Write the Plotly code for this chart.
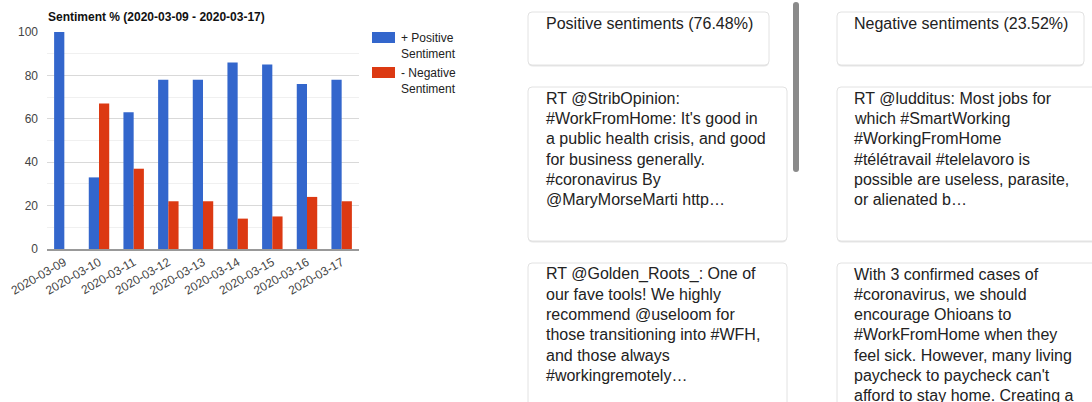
import plotly.graph_objects as go

W, H = 1092, 402

# ---------------- data ----------------
dates = ["2020-03-09", "2020-03-10", "2020-03-11", "2020-03-12", "2020-03-13",
         "2020-03-14", "2020-03-15", "2020-03-16", "2020-03-17"]
positive = [100, 33, 63, 78, 78, 86, 85, 76, 78]
negative = [0, 67, 37, 22, 22, 14, 15, 24, 22]
series_names = ["+ Positive<br>Sentiment", "- Negative<br>Sentiment"]
chart_title = "Sentiment % (2020-03-09 - 2020-03-17)"

pos_header = "Positive sentiments (76.48%)"
neg_header = "Negative sentiments (23.52%)"
pos_tweet_1 = ["RT @StribOpinion:", "#WorkFromHome: It's good in",
               "a public health crisis, and good", "for business generally.",
               "#coronavirus By", "@MaryMorseMarti http…"]
neg_tweet_1 = ["RT @ludditus: Most jobs for", "which #SmartWorking",
               "#WorkingFromHome", "#télétravail #telelavoro is",
               "possible are useless, parasite,", "or alienated b…"]
pos_tweet_2 = ["RT @Golden_Roots_: One of", "our fave tools! We highly",
               "recommend @useloom for", "those transitioning into #WFH,",
               "and those always", "#workingremotely…"]
neg_tweet_2 = ["With 3 confirmed cases of", "#coronavirus, we should",
               "encourage Ohioans to", "#WorkFromHome when they",
               "feel sick. However, many living", "paycheck to paycheck can't",
               "afford to stay home. Creating a"]

# ---------------- styles ----------------
BLUE = "#3366cc"
RED = "#dc3912"
FONT = "Liberation Sans, Arial, Helvetica, sans-serif"
TEXT = "#222222"


def fx(px):
    return px / W


def fy(py):
    return 1 - py / H


fig = go.Figure()
fig.add_trace(go.Bar(x=dates, y=positive, name=series_names[0],
                     marker=dict(color=BLUE, line=dict(width=0))))
fig.add_trace(go.Bar(x=dates, y=negative, name=series_names[1],
                     marker=dict(color=RED, line=dict(width=0))))

shapes = []
annotations = []


def rounded_rect(x0, y0, x1, y1, r=4):
    X0, X1 = fx(x0), fx(x1)
    Y0, Y1 = fy(y0), fy(y1)
    rx, ry = r / W, r / H
    return (f"M{X0+rx},{Y0} L{X1-rx},{Y0} Q{X1},{Y0} {X1},{Y0-ry} "
            f"L{X1},{Y1+ry} Q{X1},{Y1} {X1-rx},{Y1} "
            f"L{X0+rx},{Y1} Q{X0},{Y1} {X0},{Y1+ry} "
            f"L{X0},{Y0-ry} Q{X0},{Y0} {X0+rx},{Y0} Z")


def card(x0, y0, x1, y1):
    # soft shadow
    shapes.append(dict(type="path", xref="paper", yref="paper", layer="below",
                       path=rounded_rect(x0, y0 + 1.5, x1, y1 + 1.5, 5),
                       fillcolor="rgba(0,0,0,0.10)", line=dict(width=0)))
    shapes.append(dict(type="path", xref="paper", yref="paper", layer="below",
                       path=rounded_rect(x0, y0, x1, y1, 4),
                       fillcolor="white",
                       line=dict(color="#e2e2e2", width=1)))


def text_lines(lines, x, y_first, step=20.25):
    for i, t in enumerate(lines):
        annotations.append(dict(xref="paper", yref="paper", x=fx(x),
                                y=fy(y_first + i * step), text=t,
                                showarrow=False, xanchor="left",
                                yanchor="middle",
                                font=dict(family=FONT, size=16, color=TEXT)))


# cards (positive column)
card(528, 12, 769, 65)
card(528, 87, 787, 241)
card(528, 263, 787, 430)
# cards (negative column)
card(837, 12, 1084, 65)
card(837, 87, 1110, 241)
card(837, 263, 1110, 430)

# scrollbar
shapes.append(dict(type="path", xref="paper", yref="paper", layer="below",
                   path=rounded_rect(793, 2, 799, 172, 3),
                   fillcolor="#8a8a8a", line=dict(width=0)))

text_lines([pos_header], 544, 23)
text_lines([neg_header], 852, 23)
text_lines(pos_tweet_1, 544, 98.5)
text_lines(neg_tweet_1, 852, 98.5)
text_lines(pos_tweet_2, 544, 274)
text_lines(neg_tweet_2, 852, 274)

# chart title
annotations.append(dict(xref="paper", yref="paper", x=fx(46), y=fy(17),
                        text="<b>" + chart_title + "</b>", showarrow=False,
                        xanchor="left", yanchor="middle",
                        font=dict(family=FONT, size=12, color="#111111")))

# legend (custom swatches)
legend_items = [(BLUE, series_names[0], 32), (RED, series_names[1], 67)]
for color, name, top in legend_items:
    shapes.append(dict(type="rect", xref="paper", yref="paper",
                       x0=fx(372), x1=fx(395), y0=fy(top), y1=fy(top + 11),
                       fillcolor=color, line=dict(width=0)))
    annotations.append(dict(xref="paper", yref="paper", x=fx(399),
                            y=fy(top - 3), text=name, showarrow=False,
                            xanchor="left", yanchor="top", align="left",
                            font=dict(family=FONT, size=12, color="#222222")))

fig.update_layout(
    width=W, height=H,
    margin=dict(l=0, r=0, t=0, b=0),
    paper_bgcolor="white", plot_bgcolor="white",
    showlegend=False,
    barmode="group", bargap=0.41, bargroupgap=0.0,
    font=dict(family=FONT, size=12, color="#444444"),
    shapes=shapes, annotations=annotations,
    xaxis=dict(domain=[fx(47), fx(359)], type="category", tickangle=-30,
               tickfont=dict(size=12, color="#444444"),
               showline=True, linecolor="#999999", linewidth=1.5,
               showgrid=False, ticks="", fixedrange=True, automargin=False),
    yaxis=dict(domain=[fy(249), fy(32)], range=[0, 100], dtick=20,
               tickfont=dict(size=12, color="#444444"),
               showgrid=True, gridcolor="#d9d9d9", gridwidth=1,
               zeroline=False, showline=False, ticks="",
               ticklabelstandoff=8, automargin=False,
               minor=dict(dtick=10, showgrid=True, gridcolor="#f0f0f0",
                          gridwidth=1)),
)

fig.write_html("out.html",
               post_script="document.body.style.margin='0';"
                           "document.body.style.overflow='hidden';")
